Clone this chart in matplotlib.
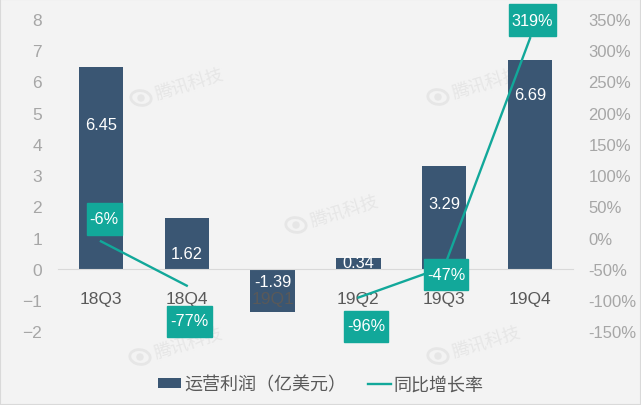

# operating profit bars with yoy growth line, 18Q3 - 19Q4
import matplotlib
matplotlib.use('Agg')
import matplotlib.pyplot as plt
from matplotlib.patches import Rectangle, Ellipse
import numpy as np

quarters = ['18Q3', '18Q4', '19Q1', '19Q2', '19Q3', '19Q4']
profit = [6.45, 1.62, -1.39, 0.34, 3.29, 6.69]
growth = [-6, -77, np.nan, -96, -47, 319]
growth_labels = ['-6%', '-77%', '', '-96%', '-47%', '319%']
left_ticks = list(range(-2, 9))
right_ticks = list(range(-150, 351, 50))

profit_name = '运营利润（亿美元）'
growth_name = '同比增长率'
watermark = '腾讯科技'

# where the labels sit, px in the image
profit_label_y = [125, 255, 283, 264, 205, 95]
box_x = [104, 189.5, 0, 366, 446, 532]
box_y = [220, 322, 0, 327, 275, 21]
box_w = [35, 44, 0, 44, 44, 47]
box_h = [32, 31, 0, 31, 31, 32]
mark_xy = [(141, 99), (296, 226), (438, 98), (140, 358), (438, 357)]

W, H = 641, 406
navy = '#3a5673'
teal = '#12a89a'
bg = '#f3f3f3'
mark_color = '#e6e6e6'
plt.rcParams['font.family'] = ['Liberation Sans', 'Noto Sans CJK SC']

fig = plt.figure(figsize=(W / 100, H / 100), dpi=100, facecolor=bg)
ax = fig.add_axes([58 / W, 1 - 332.3 / H, 515 / W, 312.5 / H])
ax.set_facecolor('none')
ax.set_zorder(1)
ax.set_xlim(-0.5, 5.5)
ax.set_ylim(-2, 8)

x = np.arange(len(quarters))
ax.bar(x, profit, width=0.515, color=navy, zorder=1, label=profit_name)

for s in ['top', 'left', 'right']:
    ax.spines[s].set_visible(False)
ax.spines['bottom'].set_position(('data', 0))
ax.spines['bottom'].set_color('#d9d9d9')
ax.set_xticks(x, quarters)
ax.tick_params(axis='x', length=0, pad=16, labelsize=12.5, labelcolor='#595959')
ax.set_yticks(left_ticks)
ax.tick_params(axis='y', length=0, pad=11.5, labelsize=12.5, labelcolor='#a6a6a6')

ax2 = ax.twinx()
ax2.set_facecolor('none')
ax2.set_zorder(2)
ax2.set_ylim(-150, 350)
for s in ax2.spines.values():
    s.set_visible(False)
ax2.set_yticks(right_ticks, [f'{t}%' for t in right_ticks])
ax2.tick_params(axis='y', length=0, pad=11, labelsize=12, labelcolor='#a6a6a6')
ax2.plot(x, growth, color=teal, lw=1.7, zorder=2, label=growth_name)

def to_fig(px_x, px_y):
    return px_x / W, 1 - px_y / H

for i, v in enumerate(profit):
    fig.text((58 + (i + 0.5) * 515 / 6) / W, to_fig(0, profit_label_y[i])[1],
             f'{v:.2f}', color='white', fontsize=11.8, ha='center', va='center', zorder=5)

for i, lab in enumerate(growth_labels):
    if not lab:
        continue
    fx, fy = to_fig(box_x[i], box_y[i])
    fig.add_artist(Rectangle((fx - box_w[i] / 2 / W, fy - box_h[i] / 2 / H), box_w[i] / W, box_h[i] / H,
                             transform=fig.transFigure, color=teal, zorder=4))
    fig.text(fx, fy, lab, color='white', fontsize=11.7, ha='center', va='center', zorder=5)

# faint watermarks, behind the axes
for mx, my in mark_xy:
    fx, fy = to_fig(mx, my)
    fig.add_artist(Ellipse((fx, fy), 20 / W, 15 / H, angle=17, transform=fig.transFigure,
                           fill=False, ec=mark_color, lw=2, zorder=0.5))
    fig.add_artist(Ellipse((fx, fy), 6 / W, 6 / H, transform=fig.transFigure,
                           color=mark_color, zorder=0.5))
    fig.text(fx + 14 / W, fy + 3 / H, watermark, color=mark_color, fontsize=12.8, rotation=17,
             rotation_mode='anchor', ha='left', va='center',
             family=['Noto Sans CJK SC'], zorder=0.5)

h1, l1 = ax.get_legend_handles_labels()
h2, l2 = ax2.get_legend_handles_labels()
fig.legend(h1 + h2, l1 + l2, loc='center', bbox_to_anchor=(321 / W, 1 - 386 / H), ncols=2, frameon=False,
           fontsize=13, labelcolor='#595959', handlelength=1.28, handleheight=0.5,
           handletextpad=0.15, columnspacing=1.2, borderpad=0, borderaxespad=0)

fig.add_artist(Rectangle((0, 0), 1, 1, transform=fig.transFigure, fill=False, ec='#d9d9d9', lw=1.5))
fig.savefig('out.png', dpi=100, facecolor=bg)
